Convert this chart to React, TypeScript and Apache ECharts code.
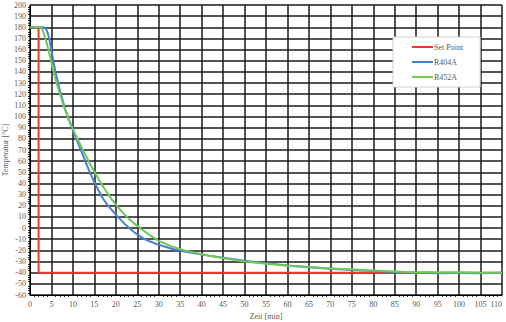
import React, { useEffect, useRef } from "react";
import * as echarts from "echarts";

const setPointT = [0, 2, 2, 110];
const setPointV = [180, 180, -40, -40];

const r404aT = [0, 3, 3.3, 3.6, 3.85, 4.1, 4.35, 4.6, 5, 5.5, 6, 6.5, 7, 8, 9, 10, 11, 12, 13, 14, 15, 16, 17, 18, 19, 20, 21, 22, 23, 24, 25, 27, 30, 33, 36, 40, 45, 50, 55, 60, 65, 70, 75, 80, 85, 90, 95, 100, 105, 110];
const r404aV = [180, 180, 179.8, 179, 177.5, 175, 171.8, 167.5, 159, 148.5, 139, 131, 123, 109, 97.5, 87.5, 78, 68.5, 59, 49.5, 41, 33.5, 26.5, 21, 16.5, 12, 8, 4, 0.5, -2.8, -5.8, -10.5, -15, -18.5, -21, -23.8, -26.5, -29.3, -31.5, -33.6, -35.2, -36.5, -37.5, -38.5, -39.3, -40, -40.4, -40.2, -40.4, -40];

const r452aT = [0, 2.3, 2.55, 2.8, 3.1, 3.5, 3.9, 4.3, 4.7, 5.4, 6.2, 7.4, 8, 9, 10, 11, 12, 13, 14, 15, 16, 17, 18, 19, 20, 21, 22, 23, 24, 25, 26, 28, 30, 33, 36, 40, 45, 50, 55, 60, 65, 70, 75, 80, 85, 90, 92.5, 95, 100, 105, 110];
const r452aV = [180, 180, 179.7, 178.8, 176, 171, 165.7, 159.5, 153.6, 141.7, 129.8, 115, 108, 98, 89, 80.5, 72.5, 65, 57.5, 50.5, 43.8, 37.5, 31.5, 26, 21, 16.5, 12.3, 8.5, 5, 2, -1, -6.5, -11.5, -16.5, -20, -23.5, -27, -30, -32, -33.8, -35, -36.2, -37, -38, -39, -39.8, -39.4, -39.9, -39.5, -40, -40];

const xMin = 0;
const xMax = 110;
const xInterval = 5;
const yMin = -60;
const yMax = 200;
const yInterval = 10;

const pairs = (t: number[], v: number[]) => t.map((x, i) => [x, v[i]]);

const FONT = "Liberation Serif";
const GRAY = "#595959";

export default function App() {
  const ref = useRef<HTMLDivElement>(null);
  useEffect(() => {
    document.body.style.margin = "0";
    const chart = echarts.init(ref.current!, undefined, { renderer: "svg" });
    chart.setOption({
      animation: false,
      backgroundColor: "#ffffff",
      grid: { left: 30, right: 4, top: 5, bottom: 27, containLabel: false, outerBoundsMode: "none" },
      legend: {
        orient: "vertical",
        left: 393,
        top: 37,
        backgroundColor: "#ffffff",
        borderColor: "#d0d0d0",
        borderWidth: 1,
        borderRadius: 0,
        padding: [5, 17, 5, 19],
        itemWidth: 21,
        itemHeight: 2,
        itemGap: 5,
        icon: "rect",
        textStyle: {
          fontFamily: FONT,
          fontSize: 8,
          color: GRAY,
          lineHeight: 10,
          padding: [0, 0, 0, -4],
        },
        data: ["Set Point", "R404A", "R452A"],
      },
      xAxis: {
        type: "value",
        min: xMin,
        max: xMax,
        interval: xInterval,
        name: "Zeit [min]",
        nameLocation: "middle",
        nameGap: 17,
        nameMoveOverlap: false,
        nameTextStyle: { fontFamily: FONT, fontSize: 8, color: GRAY, verticalAlign: "top" },
        axisLine: { show: true, onZero: false, lineStyle: { color: "#000", width: 1 } },
        axisTick: { show: false },
        minorTick: { show: true, splitNumber: 5, length: 2, lineStyle: { color: "#000", width: 0.8 } },
        axisLabel: { fontFamily: FONT, fontSize: 8, color: GRAY, margin: 5, alignMaxLabel: "right" },
        splitLine: { show: true, lineStyle: { color: "#1a1a1a", width: 1.5 } },
      },
      yAxis: {
        type: "value",
        min: yMin,
        max: yMax,
        interval: yInterval,
        name: "Temperatur [°C]",
        nameLocation: "middle",
        nameGap: 21,
        nameMoveOverlap: false,
        nameTextStyle: { fontFamily: FONT, fontSize: 8, color: GRAY },
        axisLine: { show: true, onZero: false, lineStyle: { color: "#000", width: 1 } },
        axisTick: { show: false },
        minorTick: { show: true, splitNumber: 5, length: 2, lineStyle: { color: "#000", width: 0.8 } },
        axisLabel: { fontFamily: FONT, fontSize: 8, color: GRAY, margin: 4 },
        splitLine: { show: true, lineStyle: { color: "#1a1a1a", width: 1.5 } },
      },
      series: [
        {
          name: "Set Point",
          type: "line",
          data: pairs(setPointT, setPointV),
          showSymbol: false,
          symbol: "none",
          color: "#f0382a",
          lineStyle: { color: "#f0382a", width: 2 },
        },
        {
          name: "R404A",
          type: "line",
          data: pairs(r404aT, r404aV),
          showSymbol: false,
          symbol: "none",
          smooth: false,
          color: "#4a7fd6",
          lineStyle: { color: "#4a7fd6", width: 2, join: "round" },
        },
        {
          name: "R452A",
          type: "line",
          data: pairs(r452aT, r452aV),
          showSymbol: false,
          symbol: "none",
          smooth: false,
          color: "#6fc858",
          lineStyle: { color: "#6fc858", width: 2, join: "round" },
        },
      ],
    });
    return () => chart.dispose();
  }, []);
  return <div ref={ref} style={{ width: 506, height: 322 }} />;
}
